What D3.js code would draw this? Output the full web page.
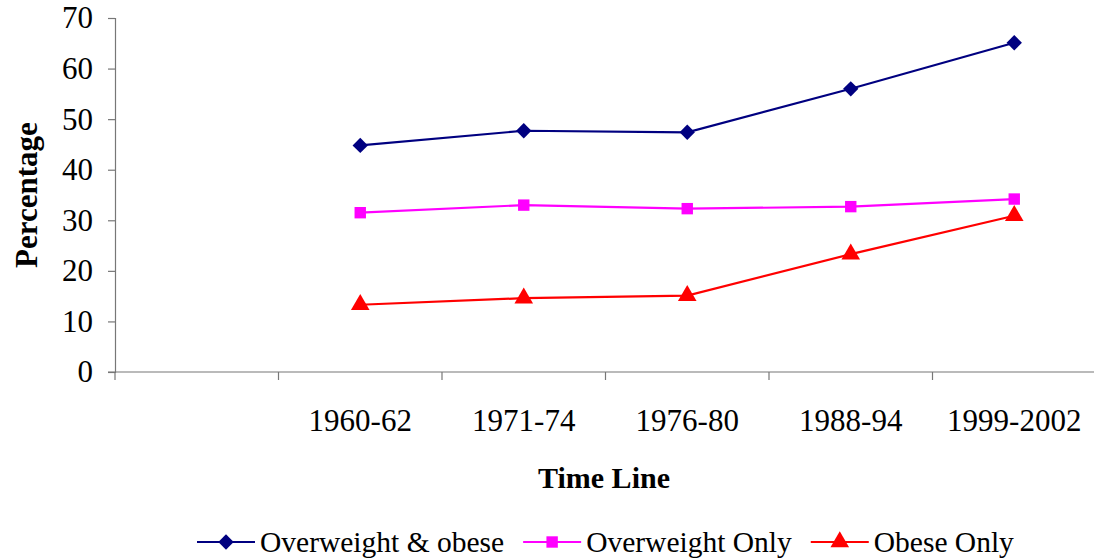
<!DOCTYPE html>
<html>
<head>
<meta charset="utf-8">
<script src="https://cdn.jsdelivr.net/npm/d3@7"></script>
<style>
  html, body { margin: 0; padding: 0; background: #fff; }
  svg { display: block; font-family: "Liberation Serif", "Times New Roman", serif; }
</style>
</head>
<body>
<svg id="chart" width="1094" height="560"></svg>
<script>
// Survey periods (a blank leading slot keeps the first band empty)
const periods = ["", "1960-62", "1971-74", "1976-80", "1988-94", "1999-2002"];
const yTicks = [0, 10, 20, 30, 40, 50, 60, 70];

// Percentages by period
const overweightObese = [44.8, 47.7, 47.4, 56.0, 65.1];
const overweightOnly  = [31.5, 33.0, 32.3, 32.7, 34.2];
const obeseOnly       = [13.3, 14.6, 15.1, 23.3, 30.9];

const seriesNames  = ["Overweight & obese", "Overweight Only", "Obese Only"];
const seriesColors = ["#000080", "#ff00ff", "#ff0000"];
const seriesShapes = [d3.symbolDiamond2, d3.symbolSquare, d3.symbolTriangle];
const seriesSizes  = [150, 130, 150];

const svg = d3.select("#chart");
const axisColor = "#777";

const x = d3.scaleBand().domain(periods).range([115, 1096]).paddingInner(0).paddingOuter(0);
const y = d3.scaleLinear().domain([0, 70]).range([372, 18]);

// Y axis
const yAxis = d3.axisLeft(y).tickValues(yTicks).tickSize(7).tickPadding(15);
const gy = svg.append("g").attr("transform", "translate(115,0)").call(yAxis);
gy.select(".domain").attr("stroke", axisColor).attr("stroke-width", 1.2);
gy.selectAll(".tick line").attr("stroke", axisColor).attr("stroke-width", 1.2);
gy.selectAll(".tick text")
  .attr("fill", "#000").style("font-size", "31px")
  .style("font-family", "'Liberation Serif', 'Times New Roman', serif");

// X axis: baseline plus ticks at band boundaries
const gx = svg.append("g");
gx.append("line")
  .attr("x1", 108).attr("x2", x.range()[1])
  .attr("y1", y(0)).attr("y2", y(0))
  .attr("stroke", axisColor).attr("stroke-width", 1.2);
const edges = periods.map(p => x(p));
gx.selectAll("line.edge").data(edges).enter().append("line")
  .attr("class", "edge")
  .attr("x1", d => d).attr("x2", d => d)
  .attr("y1", y(0)).attr("y2", y(0) + 8)
  .attr("stroke", axisColor).attr("stroke-width", 1.2);
gx.selectAll("text").data(periods.filter(p => p)).enter().append("text")
  .attr("x", d => x(d) + x.bandwidth() / 2)
  .attr("y", 431)
  .attr("text-anchor", "middle")
  .style("font-size", "31px")
  .text(d => d);

// Axis titles
svg.append("text")
  .attr("transform", "translate(37,195) rotate(-90)")
  .attr("text-anchor", "middle")
  .style("font-size", "31px").style("font-weight", "bold")
  .text("Percentage");
svg.append("text")
  .attr("x", 604).attr("y", 488)
  .attr("text-anchor", "middle")
  .style("font-size", "30px").style("font-weight", "bold")
  .text("Time Line");

// Series lines and markers
const seriesData = [overweightObese, overweightOnly, obeseOnly];
const cats = periods.slice(1);
const cx = p => x(p) + x.bandwidth() / 2;
const line = d3.line().x((d, i) => cx(cats[i])).y(d => y(d));

seriesData.forEach((vals, s) => {
  svg.append("path")
    .attr("d", line(vals))
    .attr("fill", "none")
    .attr("stroke", seriesColors[s])
    .attr("stroke-width", 2.2);
  svg.append("g").selectAll("path").data(vals).enter().append("path")
    .attr("transform", (d, i) => `translate(${cx(cats[i])},${y(d)})`)
    .attr("d", d3.symbol().type(seriesShapes[s]).size(seriesSizes[s]))
    .attr("fill", seriesColors[s]);
});

// Legend
const legend = svg.append("g");
let lx = 197;
const ly = 542;
seriesNames.forEach((name, s) => {
  const g = legend.append("g");
  g.append("line")
    .attr("x1", lx).attr("x2", lx + 58).attr("y1", ly).attr("y2", ly)
    .attr("stroke", seriesColors[s]).attr("stroke-width", 2.2);
  g.append("path")
    .attr("transform", `translate(${lx + 29},${ly})`)
    .attr("d", d3.symbol().type(seriesShapes[s]).size(seriesSizes[s]))
    .attr("fill", seriesColors[s]);
  const t = g.append("text")
    .attr("x", lx + 63).attr("y", ly + 10)
    .style("font-size", "29.5px")
    .text(name);
  lx += 58 + 5 + t.node().getComputedTextLength() + 19;
});
</script>
</body>
</html>
